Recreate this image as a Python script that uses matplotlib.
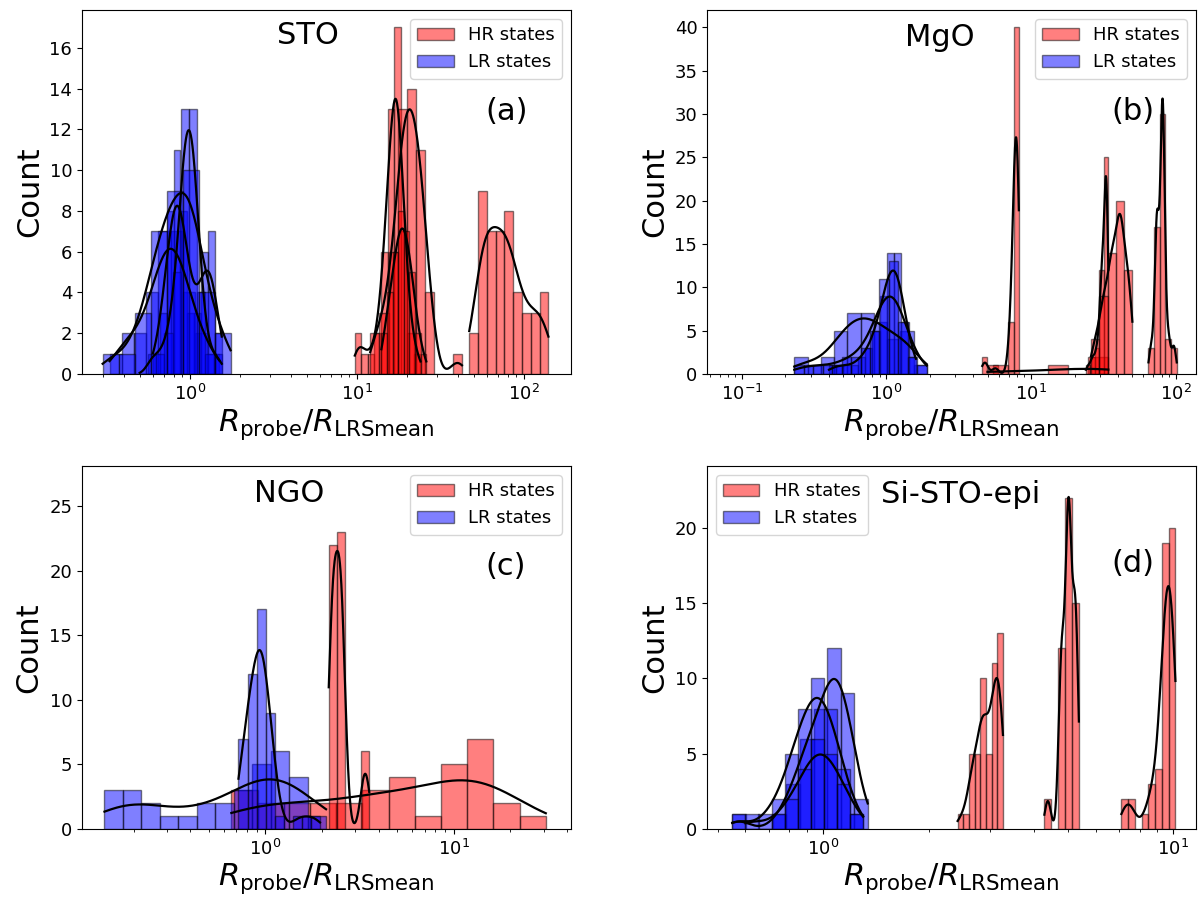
import numpy as np
import matplotlib.pyplot as plt
from matplotlib.patches import Patch

# Histogram groups (one per device): (lowest bin edge, highest bin edge)
# and the counts in equal log-width bins between them.

# --- STO ---
STO_HR_RANGES = [(9.7, 24.0), (12.0, 42.5), (14.0, 26.0), (47.0, 140.0)]
STO_HR_COUNTS = [
    [2, 1, 1, 2, 6, 13, 17, 7, 2, 1],
    [2, 3, 6, 13, 14, 11, 4, 0, 0, 1],
    [2, 4, 6, 8, 7, 5, 2, 1],
    [2, 9, 7, 7, 8, 4, 3, 3, 4],
]
STO_LR_RANGES = [(0.33, 1.5), (0.6, 1.55), (0.5, 1.55), (0.30, 1.75)]
STO_LR_COUNTS = [
    [1, 2, 2, 4, 7, 7, 4, 2, 1],
    [1, 3, 8, 11, 8, 3, 3, 6, 7, 2],
    [0, 1, 1, 2, 5, 13, 13, 4, 1, 1],
    [1, 1, 3, 7, 9, 10, 4, 2],
]

# --- MgO ---
MGO_HR_RANGES = [(4.6, 8.24), (5.0, 34.3), (24.0, 34.3), (26.0, 50.3), (65.0, 102.0)]
MGO_HR_COUNTS = [
    [2, 0, 1, 0, 0, 6, 40],
    [1, 0, 0, 1, 0, 2],
    [1, 2, 3, 12, 25],
    [4, 9, 14, 20, 12],
    [3, 17, 30, 4, 3],
]
MGO_LR_RANGES = [(0.23, 1.9), (0.4, 1.6), (0.23, 1.9)]
MGO_LR_COUNTS = [
    [2, 1, 2, 5, 7, 7, 6, 4, 5, 1],
    [1, 1, 1, 1, 2, 3, 5, 9, 14, 14, 6, 2],
    [1, 1, 1, 1, 1, 2, 2, 3, 5, 11, 13, 6, 2, 1],
]

# --- NGO ---
NGO_HR_RANGES = [(0.66, 30.8), (2.17, 3.56)]
NGO_HR_COUNTS = [
    [3, 2, 2, 2, 2, 3, 4, 1, 5, 7, 2, 1],
    [22, 23, 0, 0, 6],
]
NGO_LR_RANGES = [(0.14, 2.1), (0.72, 1.95)]
NGO_LR_COUNTS = [
    [3, 3, 2, 1, 1, 2, 2, 3, 5, 6, 4, 1],
    [7, 12, 17, 9, 1, 0, 1, 1, 1],
]

# --- Si-STO-epi ---
SI_HR_RANGES = [(2.42, 3.26), (4.28, 5.37), (7.10, 10.13)]
SI_HR_COUNTS = [
    [1, 1, 5, 5, 10, 5, 11, 13],
    [2, 0, 12, 22, 15],
    [2, 2, 0, 1, 3, 4, 19, 20],
]
SI_LR_RANGES = [(0.55, 1.34), (0.55, 1.30), (0.60, 1.30)]
SI_LR_COUNTS = [
    [1, 0, 0, 1, 3, 6, 8, 12, 9, 2],
    [1, 0, 1, 2, 5, 8, 10, 8, 4, 1],
    [1, 0, 1, 2, 4, 6, 5, 3, 1],
]

PANEL_NAMES = ["STO", "MgO", "NGO", "Si-STO-epi"]
PANEL_TAGS = ["(a)", "(b)", "(c)", "(d)"]


def log_kde(edges, counts, npts=200):
    """Gaussian KDE in log10 space (Scott bandwidth), scaled to counts like seaborn."""
    le = np.log10(edges)
    centers = 0.5 * (le[:-1] + le[1:])
    w = np.asarray(counts, dtype=float)
    n = w.sum()
    mean = np.sum(w * centers) / n
    std = np.sqrt(np.sum(w * (centers - mean) ** 2) / (n - 1))
    bw = std * n ** (-1.0 / 5.0)
    grid = np.linspace(le[0], le[-1], npts)
    dens = np.sum(
        w[:, None] * np.exp(-0.5 * ((grid[None, :] - centers[:, None]) / bw) ** 2),
        axis=0,
    ) / (n * bw * np.sqrt(2 * np.pi))
    binw = le[1] - le[0]
    return 10 ** grid, dens * n * binw


def draw_groups(ax, ranges, counts_list, color):
    for (lo, hi), counts in zip(ranges, counts_list):
        edges = np.geomspace(lo, hi, len(counts) + 1)
        ax.bar(edges[:-1], counts, width=np.diff(edges), align="edge",
               color=color, alpha=0.5, edgecolor="black", linewidth=1.0)
        xk, yk = log_kde(edges, counts)
        ax.plot(xk, yk, color="black", lw=1.6)


fig = plt.figure(figsize=(12, 9), dpi=100)

axes_pos = [
    [0.0683, 0.5844, 0.4075, 0.4044],
    [0.5892, 0.5844, 0.4075, 0.4044],
    [0.0683, 0.0790, 0.4075, 0.4030],
    [0.5892, 0.0790, 0.4075, 0.4030],
]
data = [
    (STO_HR_RANGES, STO_HR_COUNTS, STO_LR_RANGES, STO_LR_COUNTS),
    (MGO_HR_RANGES, MGO_HR_COUNTS, MGO_LR_RANGES, MGO_LR_COUNTS),
    (NGO_HR_RANGES, NGO_HR_COUNTS, NGO_LR_RANGES, NGO_LR_COUNTS),
    (SI_HR_RANGES, SI_HR_COUNTS, SI_LR_RANGES, SI_LR_COUNTS),
]
xlims = [(0.2256, 191), (0.0573, 138.7), (0.1063, 41.9), (0.466, 11.6)]
ylims = [17.85, 42.0, 28.1, 24.1]
name_pos = [(0.463, 0.93), (0.475, 0.926), (0.424, 0.926), (0.518, 0.922)]
tag_pos = [(0.868, 0.72), (0.871, 0.72), (0.867, 0.723), (0.871, 0.732)]
legend_loc = ["upper right", "upper right", "upper right", "upper left"]

for i in range(4):
    ax = fig.add_axes(axes_pos[i])
    hr_r, hr_c, lr_r, lr_c = data[i]
    draw_groups(ax, hr_r, hr_c, "red")
    draw_groups(ax, lr_r, lr_c, "blue")
    ax.set_xscale("log")
    ax.set_xlim(*xlims[i])
    ax.set_ylim(0, ylims[i])
    ax.tick_params(labelsize=13)
    ax.set_xlabel(r"$R_{\mathrm{probe}}/R_{\mathrm{LRSmean}}$", fontsize=22, labelpad=2)
    ax.set_ylabel("Count", fontsize=22)
    ax.text(*name_pos[i], PANEL_NAMES[i], transform=ax.transAxes,
            ha="center", va="center", fontsize=22)
    ax.text(*tag_pos[i], PANEL_TAGS[i], transform=ax.transAxes,
            ha="center", va="center", fontsize=22)
    handles = [
        Patch(facecolor="red", alpha=0.5, edgecolor="black", label="HR states"),
        Patch(facecolor="blue", alpha=0.5, edgecolor="black", label="LR states"),
    ]
    ax.legend(handles=handles, loc=legend_loc[i], fontsize=13)

fig.savefig("out.png", dpi=100)
